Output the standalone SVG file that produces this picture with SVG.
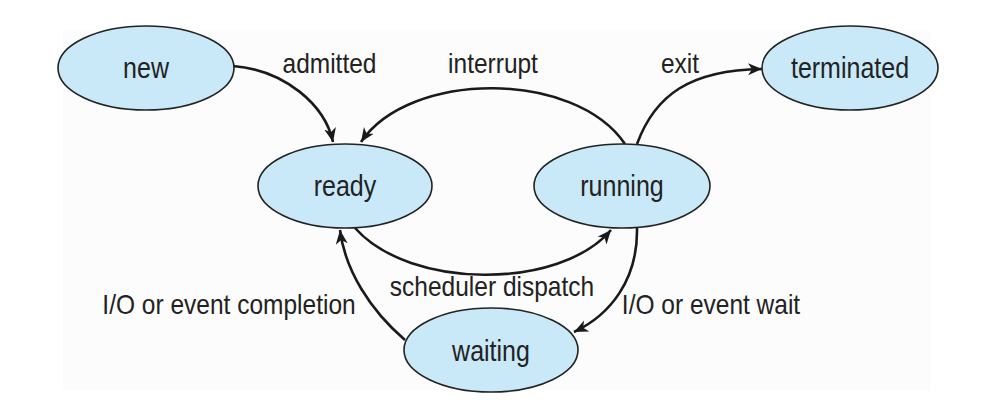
<svg xmlns="http://www.w3.org/2000/svg" width="997" height="406" viewBox="0 0 997 406">
  <style>
    .node ellipse { fill: #c9e9f9; stroke: #222; stroke-width: 1.6; }
    .node text { font-family: "Liberation Sans", Arial, sans-serif; font-size: 25px; fill: #222; text-anchor: middle; }
    .label { font-family: "Liberation Sans", Arial, sans-serif; font-size: 24.5px; fill: #222; text-anchor: middle; }
    .edge { fill: none; stroke: #1a1a1a; stroke-width: 2.6; marker-end: url(#arrow); }
  </style>
  <defs>
    <marker id="arrow" markerUnits="userSpaceOnUse" markerWidth="16" markerHeight="14" refX="14" refY="6" orient="auto">
      <path d="M0,0 L14,6 L0,12 L4,6 z" fill="#1a1a1a"/>
    </marker>
  </defs>
  <rect x="0" y="0" width="997" height="406" fill="#ffffff"/>
  <rect x="63" y="30" width="867" height="360" fill="#fcfcfc"/>

  <g id="connectors">
    <path class="edge" d="M233,66 C285,70 325,105 333,142"/>
    <path class="edge" d="M625,144 C575,70 410,70 361,142"/>
    <path class="edge" d="M637,144 C655,95 690,70 762,69"/>
    <path class="edge" d="M355,228 C410,290 560,290 611,230"/>
    <path class="edge" d="M637,228 C638,280 610,315 574,332"/>
    <path class="edge" d="M405,340 C370,310 345,270 340,230"/>
    <text class="label" transform="translate(329.5,73) scale(1,1.1)">admitted</text>
    <text class="label" transform="translate(493,73) scale(1,1.1)">interrupt</text>
    <text class="label" transform="translate(680,73) scale(1,1.1)">exit</text>
    <text class="label" transform="translate(492,296) scale(1,1.1)">scheduler dispatch</text>
    <text class="label" transform="translate(229,314) scale(1,1.1)">I/O or event completion</text>
    <text class="label" transform="translate(711,314) scale(1,1.1)">I/O or event wait</text>
  </g>

  <g id="node-new" class="node">
    <ellipse cx="146" cy="68" rx="88" ry="42"/>
    <text transform="translate(146,78) scale(1,1.15)">new</text>
  </g>
  <g id="node-ready" class="node">
    <ellipse cx="345" cy="186" rx="87" ry="42"/>
    <text transform="translate(345,196) scale(1,1.15)">ready</text>
  </g>
  <g id="node-running" class="node">
    <ellipse cx="622" cy="186" rx="88" ry="42"/>
    <text transform="translate(622,196) scale(1,1.15)">running</text>
  </g>
  <g id="node-terminated" class="node">
    <ellipse cx="850" cy="68" rx="88" ry="42"/>
    <text transform="translate(850,78) scale(1,1.15)">terminated</text>
  </g>
  <g id="node-waiting" class="node">
    <ellipse cx="491" cy="350" rx="87" ry="42"/>
    <text transform="translate(491,361) scale(1,1.15)">waiting</text>
  </g>
</svg>
